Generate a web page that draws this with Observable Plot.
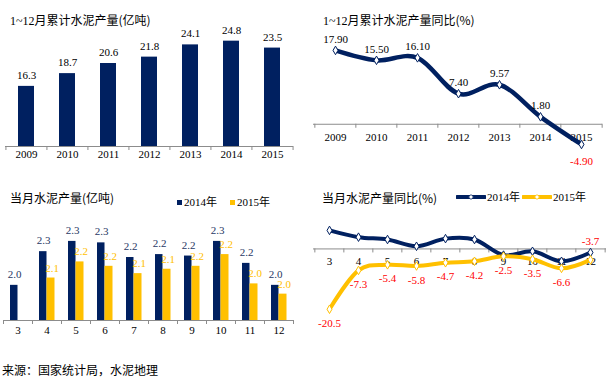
<!DOCTYPE html>
<html><head><meta charset="utf-8">
<script src="https://cdn.jsdelivr.net/npm/d3@7"></script>
<script src="https://cdn.jsdelivr.net/npm/@observablehq/plot@0.6"></script>
<style>
body{margin:0;background:#fff;}
#root{position:relative;width:609px;height:386px;overflow:hidden;font-family:"Noto Sans CJK SC",sans-serif;color:#000;}
#root svg{font-family:"Liberation Serif","Times New Roman",Tinos,"DejaVu Serif","Noto Sans CJK SC",serif !important;font-size:11px;}
.t{position:absolute;font-size:12px;white-space:nowrap;line-height:12px;}
.lg{position:absolute;font-size:11px;white-space:nowrap;line-height:11px;font-family:"Liberation Serif","Times New Roman",Tinos,"DejaVu Serif","Noto Sans CJK SC",serif;}
.num{font-family:"Liberation Serif","Times New Roman",Tinos,"DejaVu Serif",serif;}
.panel{position:absolute;}
</style></head><body><div id="root"></div>
<script>
// ---- data ----
const years = [2009, 2010, 2011, 2012, 2013, 2014, 2015];
const cumOutput = [16.3, 18.7, 20.6, 21.8, 24.1, 24.8, 23.5];           // 亿吨
const cumGrowth = [17.90, 15.50, 16.10, 7.40, 9.57, 1.80, -4.90];       // %
const months = [3, 4, 5, 6, 7, 8, 9, 10, 11, 12];
const monthly2014 = [2.03, 2.26, 2.33, 2.32, 2.22, 2.24, 2.23, 2.33, 2.18, 2.03];
const monthly2015 = [null, 2.08, 2.19, 2.16, 2.11, 2.14, 2.16, 2.24, 2.04, 1.97];
const growth2014 = [6.3, 4.0, 3.2, 0.9, 3.5, 3.2, -2.1, -0.8, -4.2, -1.2];
const growth2015 = [-20.5, -7.3, -5.4, -5.8, -4.7, -4.2, -2.5, -3.5, -6.6, -3.7];
const seriesNames = ["2014年", "2015年"];

// ---- style ----
const NAVY = "#002060", GOLD = "#FFC000", AXIS = "#8C8C8C", RED = "#FF0000", NAVYTXT = "#1F3864";
const FONT = "'Liberation Serif','Times New Roman',Tinos,'DejaVu Serif','Noto Sans CJK SC',serif";
const root = document.getElementById("root");
function place(el, left, top) { el.classList.add("panel"); el.style.left = left + "px"; el.style.top = top + "px"; root.appendChild(el); }
function html(cls, left, top, inner) { const d = document.createElement("div"); d.className = cls; d.style.left = left + "px"; d.style.top = top + "px"; d.innerHTML = inner; root.appendChild(d); return d; }
const baseStyle = {fontFamily: FONT, fontSize: "11px", overflow: "visible", background: "transparent"};

// ---- panel 1: cumulative output bars ----
{
  const W = 305, H = 170, ml = 5, mr = 12, mt = 13, mb = 24, dom = [5, 30];
  const step = (W - ml - mr) / years.length, k = (H - mt - mb) / (dom[1] - dom[0]);
  const data = years.map((y, i) => ({year: y, value: cumOutput[i]}));
  const p = Plot.plot({
    width: W, height: H, marginLeft: ml, marginRight: mr, marginTop: mt, marginBottom: mb,
    style: baseStyle,
    x: {domain: years, paddingInner: 0.6, paddingOuter: 0.3, axis: null},
    y: {domain: dom, axis: null},
    marks: [
      Plot.barY(data, {x: "year", y1: () => dom[0], y2: "value", fill: NAVY}),
      Plot.ruleY([dom[0]], {stroke: AXIS}),
      Plot.ruleX(years, {x: d => d, dx: -step / 2, y1: () => dom[0], y2: () => dom[0] - 4 / k, stroke: AXIS}),
      Plot.ruleX([years[years.length - 1]], {x: d => d, dx: step / 2, y1: () => dom[0], y2: () => dom[0] - 4 / k, stroke: AXIS}),
      Plot.text(data, {x: "year", y: "value", text: d => d.value.toFixed(1), dy: -11, fill: "#000", fontFamily: FONT}),
      Plot.text(years, {x: d => d, frameAnchor: "bottom", dy: 11, text: d => String(d), fill: "#000", fontFamily: FONT})
    ]
  });
  place(p, 0, 0);
}
html("t", 10, 14, '<span class="num">1~12</span>月累计水泥产量(亿吨)');

// ---- panel 2: cumulative growth line ----
{
  const W = 304, H = 170, ml = 8, mr = 7, mt = 33, mb = 5, dom = [-10, 22];
  const step = (W - ml - mr) / years.length, k = (H - mt - mb) / (dom[1] - dom[0]);
  const data = years.map((y, i) => ({year: y, value: cumGrowth[i]}));
  const p = Plot.plot({
    width: W, height: H, marginLeft: ml, marginRight: mr, marginTop: mt, marginBottom: mb,
    style: baseStyle,
    x: {domain: years, axis: null},
    y: {domain: dom, axis: null},
    marks: [
      Plot.ruleY([0], {stroke: AXIS}),
      Plot.ruleX(years, {x: d => d, dx: -step / 2, y1: () => 0, y2: () => -4 / k, stroke: AXIS}),
      Plot.ruleX([years[years.length - 1]], {x: d => d, dx: step / 2, y1: () => 0, y2: () => -4 / k, stroke: AXIS}),
      Plot.text(years, {x: d => d, y: () => 0, dy: 13, text: d => String(d), fill: "#000", fontFamily: FONT}),
      Plot.line(data, {x: "year", y: "value", curve: "cardinal", stroke: NAVY, strokeWidth: 4.5}),
      Plot.dot(data, {x: "year", y: "value", symbol: "diamond", r: 2.6, fill: "#fff", stroke: NAVY, strokeWidth: 1}),
      Plot.text(data.filter(d => d.value >= 0), {x: "year", y: "value", text: d => d.value.toFixed(2), dy: -11, fill: "#000", fontFamily: FONT}),
      Plot.text(data.filter(d => d.value < 0), {x: "year", y: "value", text: d => d.value.toFixed(2), dy: 17, fill: RED, fontFamily: FONT})
    ]
  });
  place(p, 305, 0);
}
html("t", 323, 14, '<span class="num">1~12</span>月累计水泥产量同比(%)');

// ---- panel 3: monthly output grouped bars ----
{
  const W = 305, H = 160, ml = 3, mr = 12, mt = 36, mb = 20, dom = [1.79, 2.5];
  const step = (W - ml - mr) / months.length, k = (H - mt - mb) / (dom[1] - dom[0]);
  const d14 = months.map((m, i) => ({month: m, value: monthly2014[i]}));
  const d15 = months.map((m, i) => ({month: m, value: monthly2015[i]})).filter(d => d.value != null);
  const p = Plot.plot({
    width: W, height: H, marginLeft: ml, marginRight: mr, marginTop: mt, marginBottom: mb,
    style: baseStyle,
    x: {domain: months, padding: 0, axis: null},
    y: {domain: dom, axis: null},
    marks: [
      Plot.barY(d14, {x: "month", y1: () => dom[0], y2: "value", fill: NAVY, insetLeft: 7, insetRight: 14.5}),
      Plot.barY(d15, {x: "month", y1: () => dom[0], y2: "value", fill: GOLD, insetLeft: 14.5, insetRight: 6.5}),
      Plot.ruleY([dom[0]], {stroke: AXIS}),
      Plot.ruleX(months, {x: d => d, dx: -step / 2, y1: () => dom[0], y2: () => dom[0] - 4 / k, stroke: AXIS}),
      Plot.ruleX([months[months.length - 1]], {x: d => d, dx: step / 2, y1: () => dom[0], y2: () => dom[0] - 4 / k, stroke: AXIS}),
      Plot.text(d14, {x: "month", y: "value", text: d => d.value.toFixed(1), dx: -3.5, dy: -11, fill: NAVYTXT, fontFamily: FONT}),
      Plot.text(d15, {x: "month", y: "value", text: d => d.value.toFixed(1), dx: 5, dy: -10, fill: GOLD, fontFamily: FONT}),
      Plot.text(months, {x: d => d, frameAnchor: "bottom", dy: 13, text: d => String(d), fill: "#000", fontFamily: FONT})
    ]
  });
  place(p, 0, 180);
}
html("t", 10, 192, '当月水泥产量(亿吨)');
html("lg", 177, 197, `<span style="display:inline-block;width:5px;height:5px;background:${NAVY};margin-right:2px;vertical-align:1px"></span>${seriesNames[0]}`);
html("lg", 230, 197, `<span style="display:inline-block;width:5px;height:5px;background:${GOLD};margin-right:2px;vertical-align:1px"></span>${seriesNames[1]}`);

// ---- panel 4: monthly growth lines ----
{
  const W = 304, H = 150, ml = 8, mr = 3, mt = 39, mb = 8, dom = [-25, 10];
  const step = (W - ml - mr) / months.length, k = (H - mt - mb) / (dom[1] - dom[0]);
  const g14 = months.map((m, i) => ({month: m, value: growth2014[i]}));
  const g15 = months.map((m, i) => ({month: m, value: growth2015[i]}));
  const last = g15.length - 1;
  const p = Plot.plot({
    width: W, height: H, marginLeft: ml, marginRight: mr, marginTop: mt, marginBottom: mb,
    style: baseStyle,
    x: {domain: months, axis: null},
    y: {domain: dom, axis: null},
    marks: [
      Plot.ruleY([0], {stroke: AXIS}),
      Plot.ruleX(months, {x: d => d, dx: -step / 2, y1: () => 0, y2: () => -4 / k, stroke: AXIS}),
      Plot.ruleX([months[months.length - 1]], {x: d => d, dx: step / 2, y1: () => 0, y2: () => -4 / k, stroke: AXIS}),
      Plot.text(months, {x: d => d, y: () => 0, dy: 13, text: d => String(d), fill: "#000", fontFamily: FONT}),
      Plot.line(g14, {x: "month", y: "value", curve: "cardinal", stroke: NAVY, strokeWidth: 4}),
      Plot.line(g15, {x: "month", y: "value", curve: "cardinal", stroke: GOLD, strokeWidth: 4}),
      Plot.dot(g14, {x: "month", y: "value", symbol: "diamond", r: 2.6, fill: "#fff", stroke: NAVY, strokeWidth: 1}),
      Plot.dot(g15, {x: "month", y: "value", symbol: "diamond", r: 2.6, fill: "#fff", stroke: GOLD, strokeWidth: 1}),
      Plot.text(g15.filter((d, i) => i < last), {x: "month", y: "value", text: d => d.value.toFixed(1), dy: 14, fill: RED, fontFamily: FONT}),
      Plot.text(g15.filter((d, i) => i === last), {x: "month", y: "value", text: d => d.value.toFixed(1), dy: -18, fill: RED, fontFamily: FONT})
    ]
  });
  place(p, 305, 180);
}
html("t", 322, 192, '当月水泥产量同比(%)');
function lineSwatch(color) {
  return `<svg width="30" height="8" style="vertical-align:0px;margin-right:1px"><line x1="1" y1="4" x2="29" y2="4" stroke="${color}" stroke-width="4" stroke-linecap="round"/><path d="M15,1.5L17.5,4L15,6.5L12.5,4Z" fill="#fff" stroke="${color}" stroke-width="0.8"/></svg>`;
}
html("lg", 456, 192, lineSwatch(NAVY) + seriesNames[0]);
html("lg", 522, 192, lineSwatch(GOLD) + seriesNames[1]);

// ---- footer ----
html("t", 2, 364, '来源：国家统计局，水泥地理');
</script></body></html>
